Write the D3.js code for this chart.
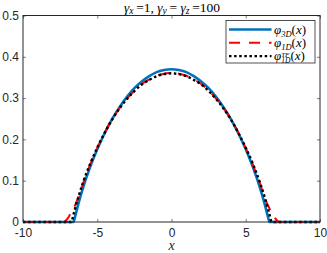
<!DOCTYPE html>
<html>
<head>
<meta charset="utf-8">
<script src="https://cdn.jsdelivr.net/npm/d3@7"></script>
<style>
  body { margin: 0; background: #fff; }
  svg { display: block; }
</style>
</head>
<body>
<svg id="chart" width="327" height="253"></svg>
<script>
// values
var xGrid = [-10, -8, -7.25, -7, -6.75, -6.6, -6.5, -6.25, -6, -5.5, -5, -4.5, -4, -3.5, -3, -2.5, -2, -1.5, -1, -0.5, 0,
             0.5, 1, 1.5, 2, 2.5, 3, 3.5, 4, 4.5, 5, 5.5, 6, 6.25, 6.5, 6.6, 6.75, 7, 7.25, 8, 10];
var phi3D = [0, 0, 0, 0, 0, 0, 0.012, 0.047, 0.078, 0.131, 0.176, 0.215, 0.249, 0.278, 0.303, 0.324, 0.340, 0.353, 0.363, 0.368, 0.370,
             0.368, 0.363, 0.353, 0.340, 0.324, 0.303, 0.278, 0.249, 0.215, 0.176, 0.131, 0.078, 0.047, 0.012, 0, 0, 0, 0, 0, 0];
var phi1D = [0, 0, 0, 0.008, 0.024, 0.033, 0.040, 0.062, 0.089, 0.137, 0.179, 0.216, 0.249, 0.276, 0.299, 0.318, 0.334, 0.345, 0.354, 0.359, 0.361,
             0.359, 0.354, 0.345, 0.334, 0.318, 0.299, 0.276, 0.249, 0.216, 0.179, 0.137, 0.089, 0.062, 0.040, 0.033, 0.024, 0.008, 0, 0, 0];
var phiTF = [0, 0, 0, 0, 0, 0.018, 0.032, 0.063, 0.091, 0.139, 0.180, 0.216, 0.248, 0.275, 0.298, 0.317, 0.333, 0.344, 0.353, 0.358, 0.360,
             0.358, 0.353, 0.344, 0.333, 0.317, 0.298, 0.275, 0.248, 0.216, 0.180, 0.139, 0.091, 0.063, 0.032, 0.018, 0, 0, 0, 0, 0];
var xTicks = [-10, -5, 0, 5, 10];
var yTicks = [0, 0.1, 0.2, 0.3, 0.4, 0.5];

var axisColor = "#262626";
var plotLeft = 23, plotRight = 320, plotTop = 15.5, plotBottom = 222;

var svg = d3.select("#chart");
var x = d3.scaleLinear().domain([-10, 10]).range([plotLeft, plotRight]);
var y = d3.scaleLinear().domain([0, 0.5]).range([plotBottom, plotTop]);

// series: draw blue first, black dots on top
var series = [
  { name: "3D", values: phi3D, color: "#0072BD", width: 2.6, dash: null },
  { name: "1D", values: phi1D, color: "#FF0000", width: 2, dash: "11,9" },
  { name: "TF", values: phiTF, color: "#000000", width: 2.4, dash: "2.5,2.6" }
];

var line = d3.line()
  .x(function(d) { return x(d[0]); })
  .y(function(d) { return y(d[1]); })
  .curve(d3.curveMonotoneX);

var plot = svg.append("g");
series.forEach(function(s) {
  plot.append("path")
    .datum(xGrid.map(function(v, i) { return [v, s.values[i]]; }))
    .attr("fill", "none")
    .attr("stroke", s.color)
    .attr("stroke-width", s.width)
    .attr("stroke-dasharray", s.dash)
    .attr("d", line);
});

// axes, ticks inside, box on
function styleAxis(g) {
  g.select(".domain").remove();
  g.selectAll("line").attr("stroke", axisColor).attr("stroke-width", 0.6);
  g.selectAll("text")
    .attr("fill", axisColor)
    .style("font-family", "'Liberation Sans', Arial, sans-serif")
    .style("font-size", "12px");
}

svg.append("g")
  .attr("transform", "translate(0," + plotBottom + ")")
  .call(d3.axisBottom(x).tickValues(xTicks).tickSizeInner(-3).tickSizeOuter(0).tickPadding(6)
    .tickFormat(function(d) { return String(d); }))
  .call(styleAxis);

svg.append("g")
  .attr("transform", "translate(0," + plotTop + ")")
  .call(d3.axisTop(x).tickValues(xTicks).tickSizeInner(-3).tickSizeOuter(0).tickFormat(""))
  .call(styleAxis);

svg.append("g")
  .attr("transform", "translate(" + plotLeft + ",0)")
  .call(d3.axisLeft(y).tickValues(yTicks).tickSizeInner(-3).tickSizeOuter(0).tickPadding(4)
    .tickFormat(function(d) { return d === 0 ? "0" : d3.format(".1f")(d); }))
  .call(styleAxis);

svg.append("g")
  .attr("transform", "translate(" + plotRight + ",0)")
  .call(d3.axisRight(y).tickValues(yTicks).tickSizeInner(-3).tickSizeOuter(0).tickFormat(""))
  .call(styleAxis);

svg.append("rect")
  .attr("x", plotLeft).attr("y", plotTop)
  .attr("width", plotRight - plotLeft).attr("height", plotBottom - plotTop)
  .attr("fill", "none")
  .attr("stroke", axisColor)
  .attr("stroke-width", 1);

// x label
svg.append("text")
  .attr("x", (plotLeft + plotRight) / 2).attr("y", 250)
  .attr("text-anchor", "middle")
  .attr("fill", axisColor)
  .style("font-family", "'Liberation Serif', serif")
  .style("font-style", "italic")
  .style("font-size", "14px")
  .text("x");

// title: gamma_x = 1, gamma_y = gamma_z = 100
var title = svg.append("text")
  .attr("x", 172).attr("y", 11.5)
  .attr("text-anchor", "middle")
  .attr("fill", "#000")
  .style("font-family", "'Liberation Serif', serif")
  .style("font-size", "13.5px");
function sym(t, sub) {
  t.append("tspan").style("font-style", "italic").text("\u03b3");
  t.append("tspan").attr("dy", 2.5).style("font-size", "9.5px").style("font-style", "italic").text(sub);
  t.append("tspan").attr("dy", -2.5).text("\u2009");
}
sym(title, "x");
title.append("tspan").text("=1, ");
sym(title, "y");
title.append("tspan").text("= ");
sym(title, "z");
title.append("tspan").text("=100");

// legend
var lg = svg.append("g");
lg.append("rect")
  .attr("x", 226).attr("y", 20.5)
  .attr("width", 89).attr("height", 42.5)
  .attr("fill", "#fff")
  .attr("stroke", axisColor)
  .attr("stroke-width", 0.8);

var legendSubs = [["3D", null], ["1D", null], ["1D", "TF"]];
series.forEach(function(s, i) {
  var ly = 29.5 + i * 13.3;
  lg.append("line")
    .attr("x1", 229).attr("x2", 271.5)
    .attr("y1", ly).attr("y2", ly)
    .attr("stroke", s.color)
    .attr("stroke-width", s.width)
    .attr("stroke-dasharray", s.dash);
  var t = lg.append("text")
    .attr("x", 274).attr("y", ly + 4)
    .attr("fill", "#000")
    .style("font-family", "'Liberation Serif', serif")
    .style("font-size", "13px");
  t.append("tspan").style("font-style", "italic").text("\u03c6");
  var sub = legendSubs[i];
  if (sub[1]) {
    var sup = t.append("tspan").attr("dy", -3.5).style("font-size", "7px").style("font-style", "italic").text(sub[1]);
    var w = sup.node().getComputedTextLength();
    t.append("tspan").attr("dx", -w).attr("dy", 6.5).style("font-size", "7.5px").style("font-style", "italic").text(sub[0]);
    t.append("tspan").attr("dy", -3).text("(");
  } else {
    t.append("tspan").attr("dy", 3).style("font-size", "8.5px").style("font-style", "italic").text(sub[0]);
    t.append("tspan").attr("dy", -3).text("(");
  }
  t.append("tspan").style("font-style", "italic").text("x");
  t.append("tspan").text(")");
});
</script>
</body>
</html>
